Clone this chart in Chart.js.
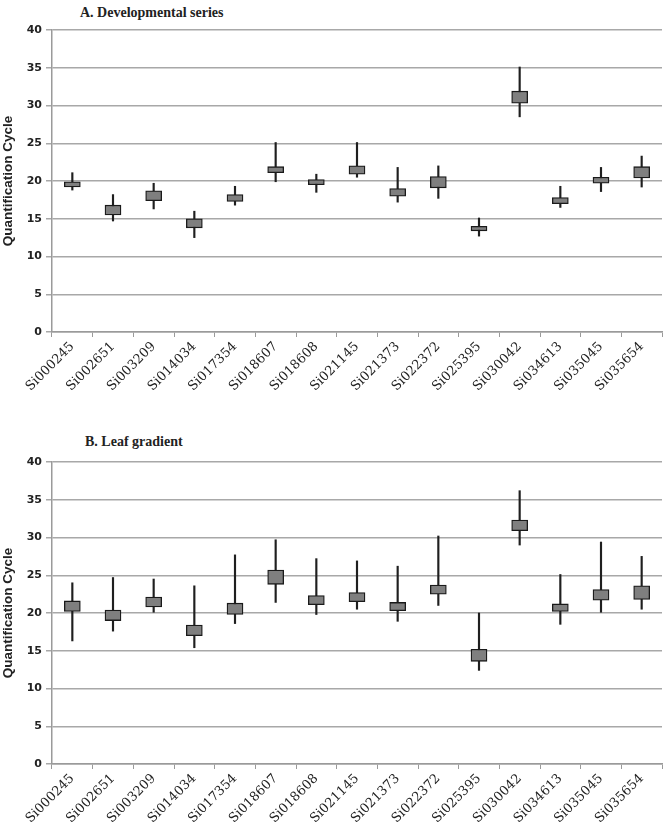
<!DOCTYPE html>
<html>
<head>
<meta charset="utf-8">
<script src="https://cdn.jsdelivr.net/npm/chart.js@4/dist/chart.umd.min.js"></script>
<style>
  body { margin: 0; background: #fff; }
  #wrap { position: relative; width: 666px; height: 836px; }
  .title { position: absolute; font-family: "Liberation Serif", "DejaVu Serif", serif; font-weight: bold; font-size: 14px; color: #222; white-space: nowrap; }
  .box { position: absolute; left: 0; width: 666px; }
</style>
</head>
<body>
<div id="wrap">
  <div class="title" id="titleA" style="left:80px; top:5px;">A. Developmental series</div>
  <div class="box" style="top:0; height:410px;"><canvas id="chartA"></canvas></div>
  <div class="title" id="titleB" style="left:85px; top:434px;">B. Leaf gradient</div>
  <div class="box" style="top:410px; height:426px;"><canvas id="chartB"></canvas></div>
</div>
<script>
const categories = ['Si000245', 'Si002651', 'Si003209', 'Si014034', 'Si017354', 'Si018607', 'Si018608',
  'Si021145', 'Si021373', 'Si022372', 'Si025395', 'Si030042', 'Si034613', 'Si035045', 'Si035654'];

// A. Developmental series
const devMin = [18.8, 14.7, 16.3, 12.5, 16.8, 19.9, 18.5, 20.5, 17.2, 17.7, 12.7, 28.5, 16.5, 18.6, 19.2];
const devQ1  = [19.2, 15.5, 17.4, 13.8, 17.3, 21.1, 19.5, 20.9, 18.0, 19.1, 13.4, 30.3, 17.0, 19.7, 20.4];
const devQ3  = [19.9, 16.8, 18.7, 15.0, 18.2, 21.9, 20.2, 22.0, 19.0, 20.6, 14.0, 31.9, 17.8, 20.5, 21.9];
const devMax = [21.1, 18.2, 19.7, 16.0, 19.3, 25.1, 20.9, 25.1, 21.8, 22.0, 15.1, 35.1, 19.3, 21.8, 23.3];

// B. Leaf gradient
const leafMin = [16.3, 17.6, 20.1, 15.4, 18.6, 21.4, 19.8, 20.5, 18.9, 21.0, 12.4, 29.0, 18.5, 20.1, 20.5];
const leafQ1  = [20.2, 19.0, 20.8, 17.0, 19.8, 23.8, 21.1, 21.5, 20.3, 22.5, 13.6, 30.9, 20.2, 21.7, 21.8];
const leafQ3  = [21.6, 20.4, 22.1, 18.4, 21.3, 25.7, 22.3, 22.7, 21.4, 23.7, 15.2, 32.3, 21.2, 23.1, 23.6];
const leafMax = [24.0, 24.7, 24.5, 23.6, 27.7, 29.7, 27.2, 26.9, 26.2, 30.2, 20.0, 36.2, 25.1, 29.4, 27.5];

const yTicks = [0, 5, 10, 15, 20, 25, 30, 35, 40];

function makeChart(id, mins, q1s, q3s, maxs, padTop, xHeight) {
  const pairs = (lo, hi) => categories.map((c, i) => [lo[i], hi[i]]);
  return new Chart(document.getElementById(id), {
    type: 'bar',
    data: {
      labels: categories,
      datasets: [
        {
          label: 'range',
          data: pairs(mins, maxs),
          backgroundColor: '#1f1f1f',
          barThickness: 1.5,
          grouped: false,
          order: 2
        },
        {
          label: 'box',
          data: pairs(q1s, q3s),
          backgroundColor: '#7f7f7f',
          borderColor: '#1a1a1a',
          borderWidth: 1.3,
          borderSkipped: false,
          barThickness: 16,
          grouped: false,
          order: 1
        }
      ]
    },
    options: {
      responsive: true,
      maintainAspectRatio: false,
      animation: false,
      layout: { padding: { top: padTop, right: 4, left: 0, bottom: 0 } },
      plugins: { legend: { display: false }, tooltip: { enabled: false } },
      scales: {
        x: {
          grid: { drawOnChartArea: false, drawTicks: true, tickLength: 5, color: '#9a9a9a', offset: true },
          border: { color: '#9a9a9a', width: 1.5 },
          ticks: {
            minRotation: 45, maxRotation: 45, autoSkip: false, padding: 2,
            color: '#222',
            font: { family: 'DejaVu Serif', size: 13 }
          },
          afterFit: s => { s.height = xHeight; }
        },
        y: {
          min: 0, max: 40,
          afterBuildTicks: s => { s.ticks = yTicks.map(v => ({ value: v })); },
          grid: { color: '#a8a8a8', lineWidth: 1.5, tickLength: 6 },
          border: { color: '#9a9a9a', width: 1.5 },
          ticks: {
            color: '#222', padding: 4,
            font: { family: 'DejaVu Sans', weight: 'bold', size: 11 }
          },
          title: {
            display: true, text: 'Quantification Cycle', color: '#222',
            font: { family: 'Liberation Sans', weight: 'bold', size: 13.5 },
            padding: { top: 0, bottom: 2 }
          },
          afterFit: s => { s.width = 52; }
        }
      }
    }
  });
}

makeChart('chartA', devMin, devQ1, devQ3, devMax, 30, 78);
makeChart('chartB', leafMin, leafQ1, leafQ3, leafMax, 52, 72);
</script>
</body>
</html>
